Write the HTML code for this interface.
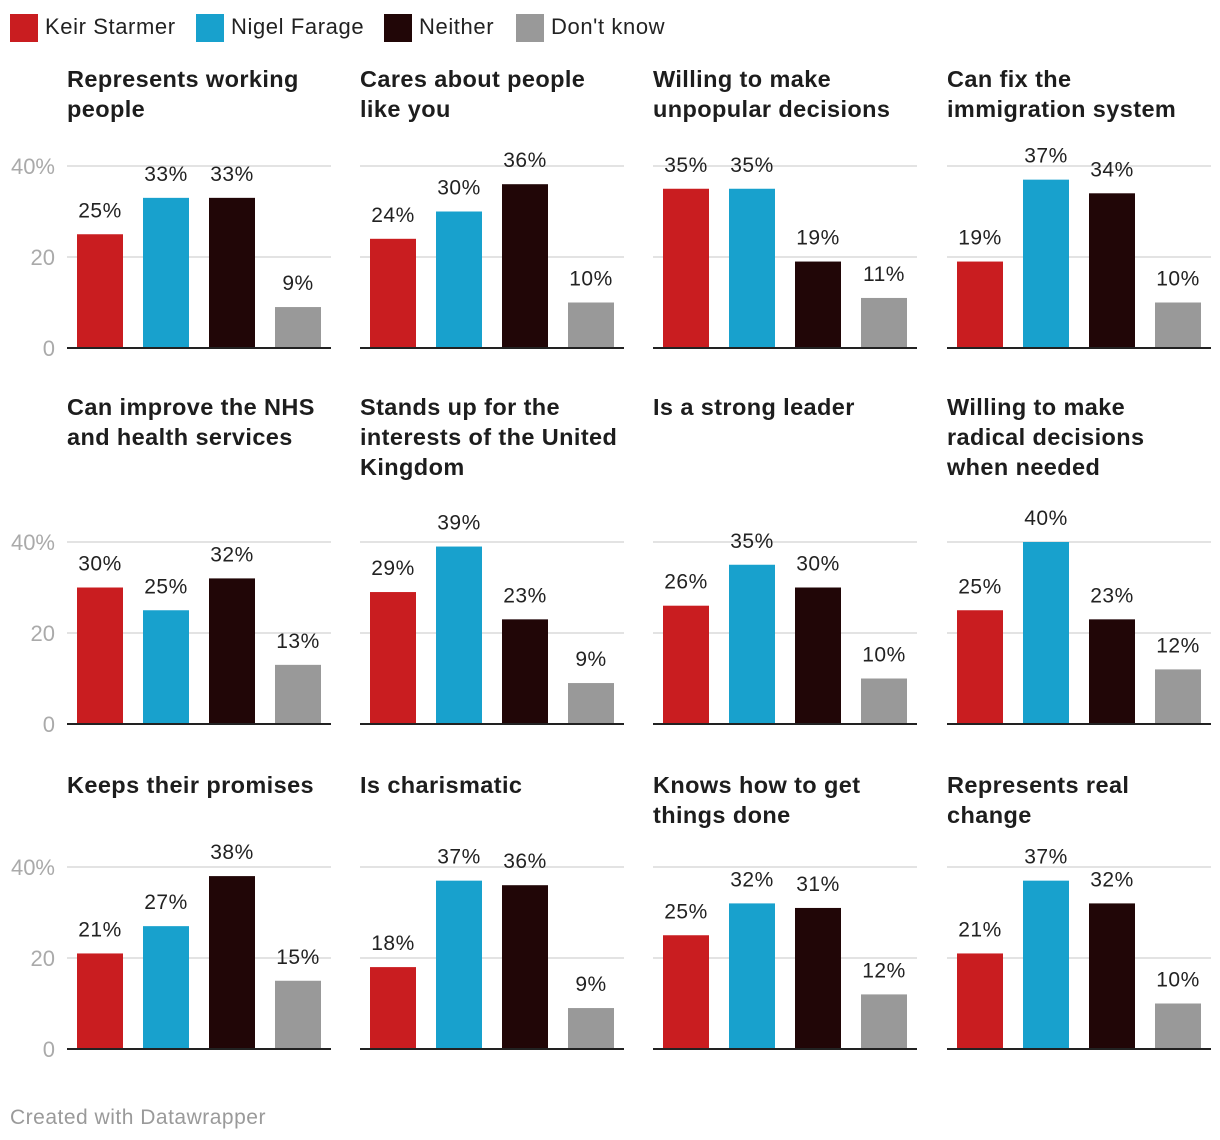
<!DOCTYPE html>
<html><head><meta charset="utf-8">
<style>
body{margin:0;background:#fff;font-family:"Liberation Sans",sans-serif;}
svg{display:block}
</style></head>
<body>
<svg id="chart" width="1220" height="1140" xmlns="http://www.w3.org/2000/svg"></svg>
<script>
const series = ["Keir Starmer","Nigel Farage","Neither","Don't know"];
const colors = ["#c91d20","#18a1cd","#210607","#999999"];
const titles = [
 ["Represents working","people"],
 ["Cares about people","like you"],
 ["Willing to make","unpopular decisions"],
 ["Can fix the","immigration system"],
 ["Can improve the NHS","and health services"],
 ["Stands up for the","interests of the United","Kingdom"],
 ["Is a strong leader"],
 ["Willing to make","radical decisions","when needed"],
 ["Keeps their promises"],
 ["Is charismatic"],
 ["Knows how to get","things done"],
 ["Represents real","change"]
];
const starmer = [25,24,35,19,30,29,26,25,21,18,25,21];
const farage  = [33,30,35,37,25,39,35,40,27,37,32,37];
const neither = [33,36,19,34,32,23,30,23,38,36,31,32];
const dontknow= [9,10,11,10,13,9,10,12,15,9,12,10];
const yTicks = [0,20,40];
const yTickLabels = ["0","20","40%"];

const NS="http://www.w3.org/2000/svg";
const svg=document.getElementById('chart');
function mk(tag,attrs,parent){const e=document.createElementNS(NS,tag);for(const k in attrs)e.setAttribute(k,attrs[k]);(parent||svg).appendChild(e);return e;}

const legX=[10,196,384,516];
series.forEach((s,i)=>{
  const g=mk('g',{});
  
  
  mk('rect',{x:legX[i],y:14,width:28,height:28,fill:colors[i]},g);
  const t=mk('text',{x:legX[i]+35,y:34,'font-size':22,fill:'#222','letter-spacing':0.6},g);
  t.textContent=s;
});

const colX=[67,360,653,947];
const baseY=[348,724,1049];
const titleY=[79,407,785];
const pxPer=4.55;
const allVals=[starmer,farage,neither,dontknow];
for(let p=0;p<12;p++){
  const r=Math.floor(p/4),c=p%4;
  const x0=colX[c],b=baseY[r];
  const y=v=>b-v*pxPer;
  const g=mk('g',{});
  
  
  titles[p].forEach((ln,k)=>{
    const t=mk('text',{x:x0,y:titleY[r]+8+k*30,'font-size':23.5,'font-weight':'bold',fill:'#1d1d1d','letter-spacing':0.4},g);
    
    t.textContent=ln;
  });
  yTicks.forEach((v,k)=>{
    if(v>0) mk('line',{x1:x0,x2:x0+264,y1:y(v),y2:y(v),stroke:'#e3e3e3','stroke-width':2},g);
    if(c===0){
      const t=mk('text',{x:55,y:y(v)+8,'font-size':22,fill:'#aaaaaa','text-anchor':'end'},g);
      
      t.textContent=yTickLabels[k];
    }
  });
  allVals.forEach((arr,i)=>{
    const v=arr[p];
    const bx=x0+10+i*66;
    const rc=mk('rect',{x:bx,y:y(v),width:46,height:v*pxPer,fill:colors[i]},g);
    
    
    const t=mk('text',{x:bx+23,y:y(v)-17,'font-size':21,fill:'#222','text-anchor':'middle','letter-spacing':0.5},g);
    
    t.textContent=v+'%';
  });
  mk('line',{x1:x0,x2:x0+264,y1:b,y2:b,stroke:'#222','stroke-width':2},g);
}
const f=mk('text',{x:10,y:1124,'font-size':21,fill:'#9a9a9a','letter-spacing':0.5});

f.textContent='Created with Datawrapper';
</script>
</body></html>
